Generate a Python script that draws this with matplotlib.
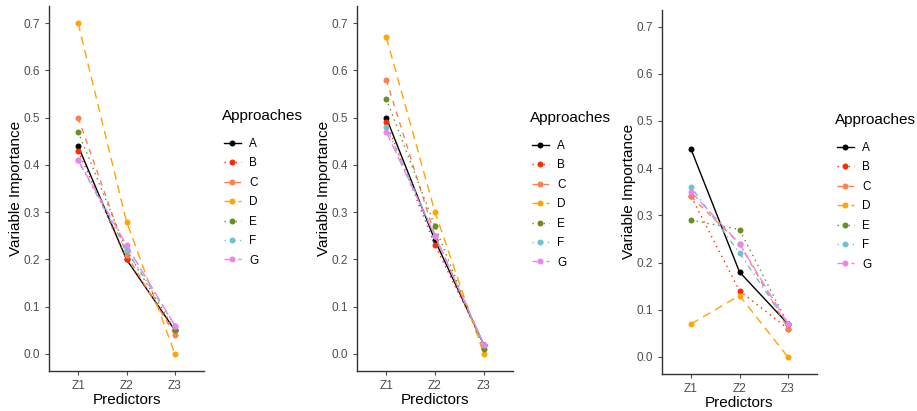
import matplotlib
matplotlib.use("Agg")
import matplotlib.pyplot as plt

plt.rcParams['font.family'] = ['Liberation Sans', 'DejaVu Sans']

predictors = ["Z1", "Z2", "Z3"]
approaches = ["A", "B", "C", "D", "E", "F", "G"]
colors = ["#000000", "#FF2A00", "#FF7F50", "#FFA500", "#6B8E23", "#6EC3CF", "#EE82EE"]
# ggplot-like linetypes (in units of linewidth)
dashes = [None, (1, 3), (4, 4), (6, 4), (1, 3), (1, 3, 4, 3), (7, 3)]

# panel values: one list per approach, Z1..Z3
panel1 = {
    "A": [0.44, 0.20, 0.05],
    "B": [0.43, 0.20, 0.05],
    "C": [0.50, 0.21, 0.04],
    "D": [0.70, 0.28, 0.00],
    "E": [0.47, 0.22, 0.05],
    "F": [0.41, 0.22, 0.06],
    "G": [0.41, 0.23, 0.06],
}
panel2 = {
    "A": [0.50, 0.24, 0.02],
    "B": [0.49, 0.23, 0.02],
    "C": [0.58, 0.25, 0.02],
    "D": [0.67, 0.30, 0.00],
    "E": [0.54, 0.27, 0.01],
    "F": [0.48, 0.25, 0.02],
    "G": [0.47, 0.25, 0.02],
}
panel3 = {
    "A": [0.44, 0.18, 0.07],
    "B": [0.34, 0.14, 0.06],
    "C": [0.34, 0.24, 0.06],
    "D": [0.07, 0.13, 0.00],
    "E": [0.29, 0.27, 0.07],
    "F": [0.36, 0.22, 0.07],
    "G": [0.35, 0.24, 0.07],
}

W, H = 917, 411
fig = plt.figure(figsize=(W / 100, H / 100), dpi=100)

# pixel boxes: left, right, top, bottom
boxes = [(49, 204, 6.5, 370.5), (357, 513, 6.5, 370.5), (662, 817, 10, 373.5)]
# legend: title x, title y (center), first key y (center)
legend_pos = [(222, 116, 145), (530, 118, 147), (835, 120, 149)]

for data, (l, r, t, b), (lx, ty, ky) in zip([panel1, panel2, panel3], boxes, legend_pos):
    ax = fig.add_axes([l / W, (H - b) / H, (r - l) / W, (b - t) / H])
    x = range(1, len(predictors) + 1)
    handles = []
    for name, col, dsh in zip(approaches, colors, dashes):
        line, = ax.plot(x, data[name], color=col, lw=1.0, marker='o', ms=4.3,
                        markeredgewidth=0, label=name)
        if dsh is not None:
            line.set_dashes(dsh)
        handles.append(line)
    ax.set_xlim(0.4, 3.6)
    ax.set_ylim(-0.035, 0.735)
    ax.set_xticks(list(x))
    ax.set_xticklabels(predictors)
    ax.set_yticks([0, 0.1, 0.2, 0.3, 0.4, 0.5, 0.6, 0.7])
    ax.set_yticklabels(["0.0", "0.1", "0.2", "0.3", "0.4", "0.5", "0.6", "0.7"])
    for s in ["top", "right"]:
        ax.spines[s].set_visible(False)
    for s in ["left", "bottom"]:
        ax.spines[s].set_linewidth(1.0)
        ax.spines[s].set_color("#333333")
    ax.tick_params(labelsize=8.5, colors="#4D4D4D", length=3, width=0.8)
    ax.set_xlabel("Predictors", fontsize=11, labelpad=1)
    ax.set_ylabel("Variable Importance", fontsize=11, labelpad=0)

    fig.text(lx / W, 1 - ty / H, "Approaches", fontsize=11, ha='left', va='center')
    ax.legend(handles=handles, frameon=False, loc='upper left',
              bbox_to_anchor=(lx / W + 2 / W, 1 - (ky - 7) / H),
              bbox_transform=fig.transFigure, fontsize=8.5, borderpad=0,
              borderaxespad=0, handlelength=1.4, handletextpad=0.75,
              labelspacing=0.63)

fig.savefig("out.png", dpi=100)
